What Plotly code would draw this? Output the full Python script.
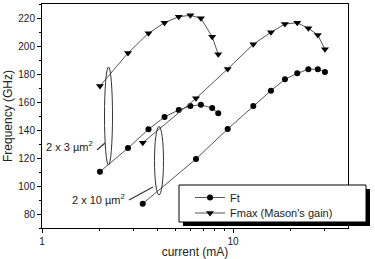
import plotly.graph_objects as go

# Small device (2 x 3 um^2)
x_small = [2.01, 2.82, 3.61, 4.38, 5.20, 5.98, 6.79, 7.78, 8.37]
ft_small = [110.2, 127.1, 140.5, 149.3, 154.3, 157.1, 158.0, 155.7, 151.9]
fmax_small = [171.4, 195.0, 209.1, 216.6, 220.9, 221.9, 219.8, 206.6, 194.1]

# Large device (2 x 10 um^2)
x_large = [3.37, 6.40, 9.38, 12.77, 15.8, 18.7, 21.7, 24.8, 27.8, 30.3]
ft_large = [87.4, 119.3, 140.7, 157.1, 168.1, 176.2, 180.5, 183.4, 183.4, 181.4]
fmax_large = [130.9, 162.6, 183.6, 201.2, 209.8, 215.7, 216.6, 212.6, 207.9, 197.6]

y_ticks = [80, 100, 120, 140, 160, 180, 200, 220]
x_ticks = [1, 10]
x_minor = [2, 3, 4, 5, 6, 7, 8, 9, 20, 30]

W, H = 375, 259
ML, MR, MT, MB = 42, 27, 4, 31
PW, PH = W - ML - MR, H - MT - MB

def px(x):
    return (x - ML) / PW

def py(y):
    return (H - MB - y) / PH

LINE = dict(color="#555555", width=1)
FONT = "Liberation Sans, Arial, sans-serif"

fig = go.Figure()
fig.add_trace(go.Scatter(x=x_small, y=ft_small, mode="lines+markers", name="Ft",
                         legendgroup="ft", legend="legend", line=LINE,
                         marker=dict(symbol="circle", size=6, color="black")))
fig.add_trace(go.Scatter(x=x_small, y=fmax_small, mode="lines+markers",
                         name="Fmax (Mason's gain)", legendgroup="fmax",
                         legend="legend2", line=LINE,
                         marker=dict(symbol="triangle-down", size=7, color="black")))
fig.add_trace(go.Scatter(x=x_large, y=ft_large, mode="lines+markers", name="Ft",
                         legendgroup="ft", showlegend=False, line=LINE,
                         marker=dict(symbol="circle", size=6, color="black")))
fig.add_trace(go.Scatter(x=x_large, y=fmax_large, mode="lines+markers",
                         name="Fmax (Mason's gain)", legendgroup="fmax",
                         showlegend=False, line=LINE,
                         marker=dict(symbol="triangle-down", size=7, color="black")))

shapes = []
# legend shadow and box
shapes.append(dict(type="rect", xref="paper", yref="paper", layer="above",
                   x0=px(183), x1=px(370), y0=py(226), y1=py(189),
                   fillcolor="black", line=dict(width=0)))
shapes.append(dict(type="rect", xref="paper", yref="paper", layer="above",
                   x0=px(179), x1=px(366), y0=py(222), y1=py(185),
                   fillcolor="white", line=dict(color="black", width=1)))
# ellipses
shapes.append(dict(type="circle", xref="paper", yref="paper",
                   x0=px(104.5), x1=px(112.5), y0=py(165), y1=py(67),
                   line=dict(color="#333333", width=1)))
shapes.append(dict(type="circle", xref="paper", yref="paper",
                   x0=px(154.5), x1=px(163.5), y0=py(195), y1=py(126.5),
                   line=dict(color="#333333", width=1)))
# pointer lines
shapes.append(dict(type="line", xref="paper", yref="paper",
                   x0=px(97), y0=py(150), x1=px(105), y1=py(143),
                   line=dict(color="#333333", width=1.2)))
shapes.append(dict(type="line", xref="paper", yref="paper",
                   x0=px(129), y0=py(200), x1=px(153), y1=py(187),
                   line=dict(color="#333333", width=1.2)))

annotations = [
    dict(xref="paper", yref="paper", x=px(44), y=py(146), xanchor="left",
         yanchor="middle", showarrow=False, text="2 x 3 µm<sup>2</sup>",
         font=dict(size=11, color="#222222", family=FONT)),
    dict(xref="paper", yref="paper", x=px(70), y=py(199), xanchor="left",
         yanchor="middle", showarrow=False, text="2 x 10 µm<sup>2</sup>",
         font=dict(size=11, color="#222222", family=FONT)),
]

legend_style = dict(xanchor="left", yanchor="top", bgcolor="rgba(0,0,0,0)",
                    borderwidth=0,
                    font=dict(size=11, family=FONT, color="#222222"))

fig.update_layout(
    width=W, height=H,
    margin=dict(l=ML, r=MR, t=MT, b=MB, autoexpand=False),
    paper_bgcolor="white", plot_bgcolor="white",
    font=dict(family=FONT, size=10, color="#222222"),
    shapes=shapes, annotations=annotations,
    showlegend=True,
    legend=dict(x=px(190), y=py(183), **legend_style),
    legend2=dict(x=px(190), y=py(198.5), **legend_style),
    xaxis=dict(type="log", range=[0, 1.60206], showgrid=False, zeroline=False,
               showline=True, linecolor="black", linewidth=1, mirror=True,
               ticks="outside", ticklen=4, tickcolor="black",
               tickvals=x_ticks, ticktext=[str(v) for v in x_ticks],
               tickfont=dict(size=10),
               minor=dict(tickmode="array", tickvals=x_minor, ticks="outside",
                          ticklen=2, tickcolor="black", showgrid=False),
               title=dict(text="current (mA)", font=dict(size=12), standoff=5)),
    yaxis=dict(range=[70, 230], showgrid=False, zeroline=False,
               showline=True, linecolor="black", linewidth=1, mirror=True,
               ticks="outside", ticklen=4, tickcolor="black",
               tickvals=y_ticks, tickfont=dict(size=10),
               minor=dict(dtick=10, tick0=70, ticks="outside", ticklen=2,
                          tickcolor="black", showgrid=False),
               title=dict(text="Frequency (GHz)", font=dict(size=12), standoff=3)),
)

fig.write_html("out.html")
